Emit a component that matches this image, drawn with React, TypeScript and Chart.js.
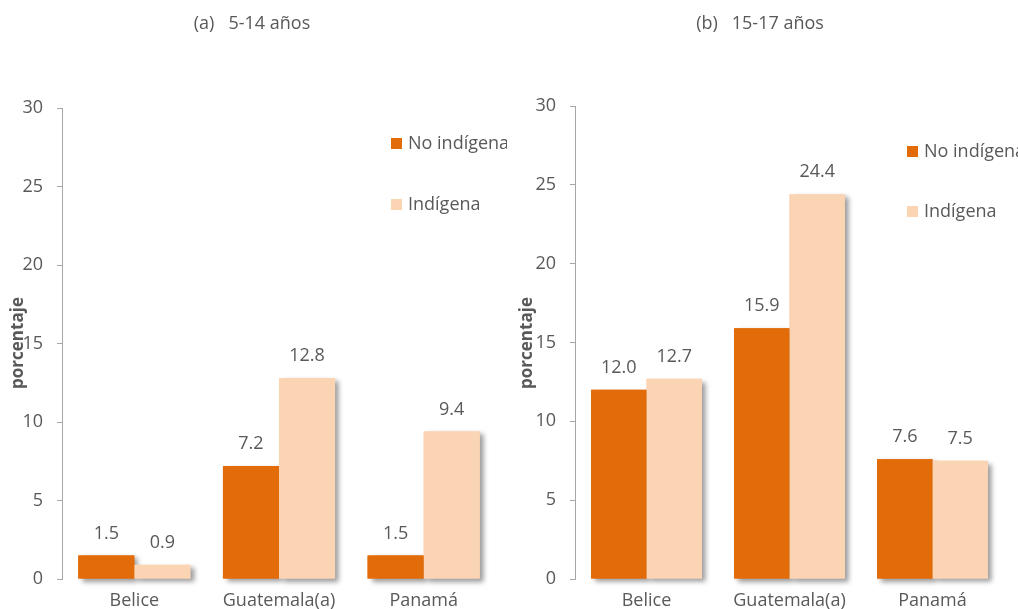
import React, { useEffect, useRef } from "react";
import { Chart, registerables } from "chart.js";

Chart.register(...registerables);

const categories = ["Belice", "Guatemala(a)", "Panamá"];
const seriesNames = ["No indígena", "Indígena"];
const aNoIndigena = [1.5, 7.2, 1.5];
const aIndigena = [0.9, 12.8, 9.4];
const bNoIndigena = [12.0, 15.9, 7.6];
const bIndigena = [12.7, 24.4, 7.5];
const panelTitles = ["(a)   5-14 años", "(b)   15-17 años"];
const yAxisTitle = "porcentaje";

const ORANGE = "#E36C0A";
const PEACH = "#FBD4B4";
const TEXT = "#595959";
const FONT = "'Open Sans', sans-serif";

type PanelCfg = {
  title: string;
  titleX: number;
  noInd: number[];
  ind: number[];
  top: number;
  axisWidth: number;
  rightPad: number;
  legendX: number;
  legendY1: number;
  legendY2: number;
  axisTitleX: number;
};

function makeChart(canvas: HTMLCanvasElement, cfg: PanelCfg) {
  const overlay = {
    id: "overlay",
    beforeDatasetsDraw(chart: any) {
      const ctx = chart.ctx;
      ctx.save();
      ctx.shadowColor = "rgba(0,0,0,0.4)";
      ctx.shadowBlur = 5;
      ctx.shadowOffsetX = 4;
      ctx.shadowOffsetY = 3;
      chart.data.datasets.forEach((ds: any, di: number) => {
        const meta = chart.getDatasetMeta(di);
        ctx.fillStyle = ds.backgroundColor;
        meta.data.forEach((bar: any) => {
          const p = bar.getProps(["x", "y", "base", "width"], true);
          ctx.fillRect(p.x - p.width / 2, p.y, p.width, p.base - p.y);
        });
      });
      ctx.restore();
    },
    afterDatasetsDraw(chart: any) {
      const ctx = chart.ctx;
      ctx.save();
      ctx.fillStyle = TEXT;
      ctx.font = `18px ${FONT}`;
      ctx.textAlign = "center";
      ctx.textBaseline = "middle";
      chart.data.datasets.forEach((ds: any, di: number) => {
        const meta = chart.getDatasetMeta(di);
        meta.data.forEach((bar: any, i: number) => {
          ctx.fillText(Number(ds.data[i]).toFixed(1), bar.x, bar.y - 22);
        });
      });
      // title
      ctx.font = `18px ${FONT}`;
      ctx.fillText(cfg.title, cfg.titleX, 24);
      // axis title
      ctx.save();
      ctx.translate(cfg.axisTitleX, 343);
      ctx.rotate(-Math.PI / 2);
      ctx.font = `bold 17px ${FONT}`;
      ctx.fillText(yAxisTitle, 0, 0);
      ctx.restore();
      // legend
      ctx.textAlign = "left";
      ctx.font = `18px ${FONT}`;
      const items = [
        { label: seriesNames[0], color: ORANGE, y: cfg.legendY1 },
        { label: seriesNames[1], color: PEACH, y: cfg.legendY2 },
      ];
      items.forEach((it) => {
        ctx.fillStyle = it.color;
        ctx.fillRect(cfg.legendX, it.y - 6, 11, 11);
        ctx.fillStyle = TEXT;
        ctx.fillText(it.label, cfg.legendX + 17, it.y);
      });
      ctx.restore();
    },
  };

  return new Chart(canvas, {
    type: "bar",
    data: {
      labels: categories,
      datasets: [
        { label: seriesNames[0], data: cfg.noInd, backgroundColor: ORANGE },
        { label: seriesNames[1], data: cfg.ind, backgroundColor: PEACH },
      ],
    },
    options: {
      animation: false,
      responsive: false,
      devicePixelRatio: 1,
      layout: { padding: { top: cfg.top, left: 0, right: cfg.rightPad, bottom: 0 } },
      datasets: { bar: { barPercentage: 1, categoryPercentage: 0.775 } },
      plugins: { legend: { display: false }, tooltip: { enabled: false }, title: { display: false } },
      scales: {
        x: {
          grid: { display: false },
          border: { display: false },
          ticks: { color: TEXT, font: { family: FONT, size: 18 }, padding: 3, maxRotation: 0 },
          afterFit: (s: any) => {
            s.height = 30;
          },
        },
        y: {
          min: 0,
          max: 30,
          ticks: { stepSize: 5, color: TEXT, font: { family: FONT, size: 18 }, padding: 14 },
          grid: { drawOnChartArea: false, tickLength: 5, color: "#A6A6A6" },
          border: { display: true, color: "#A6A6A6" },
          afterFit: (s: any) => {
            s.width = cfg.axisWidth;
          },
        },
      },
    },
    plugins: [overlay],
  } as any);
}

export default function App() {
  const leftRef = useRef<HTMLCanvasElement>(null);
  const rightRef = useRef<HTMLCanvasElement>(null);

  useEffect(() => {
    document.body.style.margin = "0";
    const c1 = makeChart(leftRef.current!, {
      title: panelTitles[0],
      titleX: 252,
      noInd: aNoIndigena,
      ind: aIndigena,
      top: 108,
      axisWidth: 62,
      rightPad: 11,
      legendX: 391,
      legendY1: 144,
      legendY2: 205,
      axisTitleX: 18,
    });
    const c2 = makeChart(rightRef.current!, {
      title: panelTitles[1],
      titleX: 250,
      noInd: bNoIndigena,
      ind: bIndigena,
      top: 106,
      axisWidth: 65,
      rightPad: 14,
      legendX: 397,
      legendY1: 152,
      legendY2: 212,
      axisTitleX: 17,
    });
    return () => {
      c1.destroy();
      c2.destroy();
    };
  }, []);

  return (
    <div style={{ position: "relative", width: 1018, height: 609, background: "#fff" }}>
      <canvas ref={leftRef} width={507} height={609} style={{ position: "absolute", left: 0, top: 0 }} />
      <canvas ref={rightRef} width={508} height={609} style={{ position: "absolute", left: 510, top: 0 }} />
    </div>
  );
}
